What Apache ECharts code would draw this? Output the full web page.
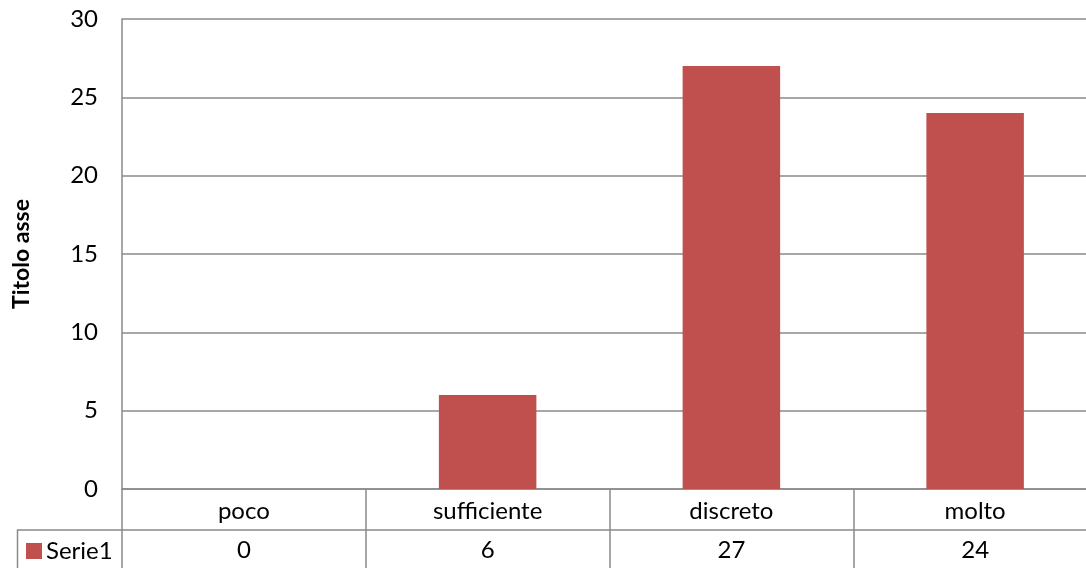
<!DOCTYPE html>
<html>
<head>
<meta charset="utf-8">
<script src="https://cdn.jsdelivr.net/npm/echarts@6/dist/echarts.min.js"></script>
<style>
html,body{margin:0;padding:0;background:#fff;}
#chart{width:1086px;height:568px;}
</style>
</head>
<body>
<div id="chart"></div>
<script>
const categories = ['poco', 'sufficiente', 'discreto', 'molto'];
const serieName = 'Serie1';
const values = [0, 6, 27, 24];
const yTicks = [0, 5, 10, 15, 20, 25, 30];
const axisTitle = 'Titolo asse';

const FONT = 'Lato, "Open Sans", sans-serif';
const FS = 24;
const LINE = '#8a8a8a';
const BAR = '#C0504D';

const chart = echarts.init(document.getElementById('chart'), null, {renderer: 'canvas'});
chart.setOption({
  animation: false,
  backgroundColor: '#fff',
  textStyle: {fontFamily: FONT},
  grid: {left: 122, right: -11, top: 19, bottom: 79, containLabel: false, outerBoundsMode: 'none'},
  legend: {show: false},
  xAxis: [{
    type: 'category',
    data: categories,
    position: 'bottom',
    axisLine: {show: true, lineStyle: {color: LINE, width: 1.5}},
    axisTick: {show: true, length: 80, alignWithLabel: false, lineStyle: {color: LINE, width: 1.5}},
    axisLabel: {fontFamily: FONT, fontSize: FS, color: '#000', margin: 10},
    splitLine: {show: false}
  }, {
    type: 'category',
    data: values.map(String),
    position: 'bottom',
    offset: 41,
    axisLine: {show: true, lineStyle: {color: LINE, width: 1.5}},
    axisTick: {show: false},
    axisLabel: {fontFamily: FONT, fontSize: FS, color: '#000', margin: 8},
    splitLine: {show: false}
  }],
  yAxis: {
    type: 'value',
    min: yTicks[0],
    max: yTicks[yTicks.length - 1],
    interval: yTicks[1] - yTicks[0],
    name: axisTitle,
    nameLocation: 'middle',
    nameRotate: 90,
    nameGap: 89,
    nameTextStyle: {fontFamily: FONT, fontSize: 23, fontWeight: 'bold', color: '#000'},
    axisLine: {show: true, lineStyle: {color: LINE, width: 1.5}},
    axisTick: {show: false},
    axisLabel: {fontFamily: FONT, fontSize: FS, color: '#000', margin: 24},
    splitLine: {show: true, lineStyle: {color: LINE, width: 1.5}}
  },
  series: [{
    name: serieName,
    type: 'bar',
    xAxisIndex: 0,
    data: values,
    barCategoryGap: '60%',
    itemStyle: {color: BAR}
  }],
  graphic: [
    {type: 'polyline', shape: {points: [[17.5, 580], [17.5, 530], [122, 530]]},
     style: {stroke: LINE, lineWidth: 1.5, fill: null}},
    {type: 'rect', shape: {x: 26, y: 543, width: 16, height: 16}, style: {fill: BAR}},
    {type: 'text', x: 46, y: 551, style: {text: serieName, font: FS + 'px ' + FONT, fill: '#000', verticalAlign: 'middle'}}
  ]
});
</script>
</body>
</html>
